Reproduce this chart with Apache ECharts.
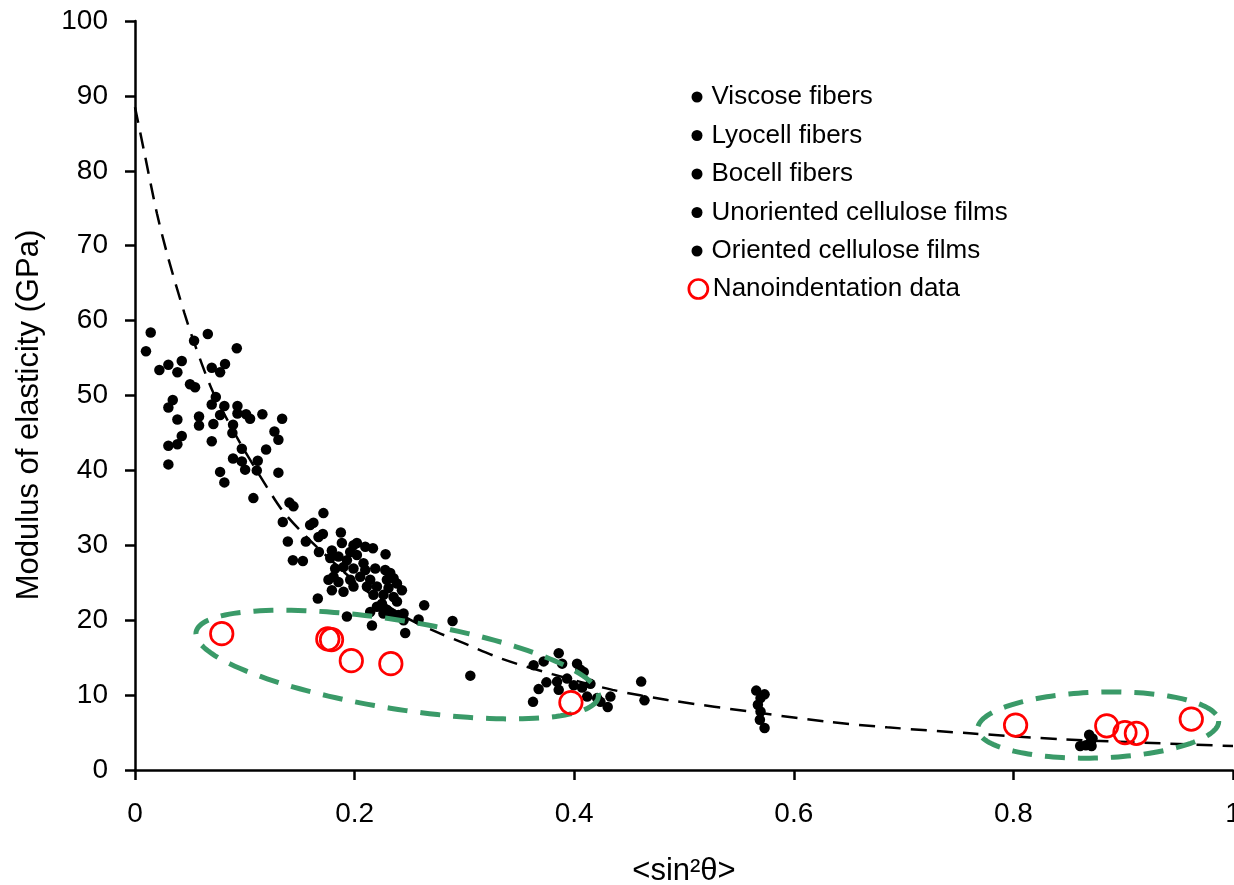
<!DOCTYPE html>
<html>
<head>
<meta charset="utf-8">
<script src="https://cdn.jsdelivr.net/npm/echarts@6/dist/echarts.min.js"></script>
<style>
  html, body { margin: 0; padding: 0; background: #fff; }
  #chart { width: 1234px; height: 885px; }
</style>
</head>
<body>
<div id="chart"></div>
<script>
// Elastic modulus vs. orientation parameter <sin²θ> for regenerated cellulose

const seriesNames = [
  'Viscose fibers',
  'Lyocell fibers',
  'Bocell fibers',
  'Unoriented cellulose films',
  'Oriented cellulose films'
];
const nanoName = 'Nanoindentation data';

const xTicks = [0, 0.2, 0.4, 0.6, 0.8, 1];
const yTicks = [0, 10, 20, 30, 40, 50, 60, 70, 80, 90, 100];

// [<sin²θ>, modulus GPa]
const viscose = [
  [0.3054, 12.6], [0.3859, 15.6], [0.3890, 14.2], [0.3722, 14.5], [0.4026, 14.2],
  [0.4057, 13.4], [0.4087, 13.1], [0.3747, 11.7], [0.3676, 10.8], [0.3625, 9.1],
  [0.3844, 11.8], [0.3859, 10.7], [0.3935, 12.2], [0.3996, 11.3], [0.4072, 11.0],
  [0.4148, 11.5], [0.4118, 9.8], [0.4209, 9.6], [0.4239, 9.1], [0.4330, 9.8],
  [0.4305, 8.4], [0.4610, 11.8], [0.4640, 9.3], [0.3630, 14.0]
];

const lyocell = [
  [0.1407, 35.7], [0.1443, 35.2], [0.1716, 34.3], [0.1346, 33.1], [0.1595, 32.7],
  [0.1625, 33.0], [0.1875, 31.7], [0.1392, 30.5], [0.1556, 30.5], [0.1671, 31.1],
  [0.1711, 31.5], [0.1438, 28.0], [0.1529, 27.9], [0.1675, 29.1], [0.1793, 29.3],
  [0.1884, 30.3], [0.1990, 30.0], [0.2021, 30.3], [0.2097, 29.8], [0.2167, 29.6],
  [0.2282, 28.8], [0.1778, 28.3], [0.1853, 28.5], [0.1930, 28.0], [0.1960, 29.1],
  [0.2021, 28.7], [0.2081, 27.6], [0.1823, 26.9], [0.1899, 27.1], [0.1990, 26.9],
  [0.2097, 26.7], [0.2188, 26.9], [0.1808, 25.8], [0.1762, 25.4], [0.1853, 25.1],
  [0.1960, 25.4], [0.2051, 25.8], [0.2142, 25.4], [0.2279, 26.7], [0.2325, 26.3],
  [0.2355, 25.6], [0.2294, 25.4], [0.2386, 24.9], [0.2431, 24.0], [0.2309, 24.3],
  [0.2203, 24.5], [0.2112, 24.5], [0.1990, 24.5], [0.1899, 23.8], [0.1793, 24.0],
  [0.2172, 23.4], [0.2263, 23.4], [0.2355, 23.1], [0.2386, 22.5], [0.2249, 22.2],
  [0.2203, 21.8], [0.2294, 21.4], [0.2340, 20.9], [0.2400, 20.7], [0.2446, 20.9],
  [0.2446, 20.0], [0.2325, 20.7], [0.2263, 20.9], [0.1665, 22.9], [0.2142, 21.1],
  [0.1930, 20.5], [0.2158, 19.3], [0.2461, 18.3], [0.2583, 20.1], [0.2634, 22.0],
  [0.2892, 19.9]
];

const bocell = [
  [0.0143, 58.4], [0.0100, 55.9], [0.0538, 57.3], [0.0663, 58.2], [0.0927, 56.3],
  [0.0222, 53.4], [0.0304, 54.1], [0.0386, 53.1], [0.0426, 54.6], [0.0699, 53.7],
  [0.0820, 54.2], [0.0775, 53.1], [0.0501, 51.5], [0.0547, 51.1], [0.0344, 49.4],
  [0.0304, 48.4], [0.0736, 49.8], [0.0699, 48.8], [0.0814, 48.6], [0.0933, 48.6],
  [0.0775, 47.4], [0.0933, 47.6], [0.1012, 47.5], [0.1048, 46.9], [0.1160, 47.5],
  [0.1340, 46.9], [0.0386, 46.8], [0.0583, 47.2], [0.0583, 46.0], [0.0714, 46.2],
  [0.0893, 46.1], [0.0887, 45.0], [0.1270, 45.2], [0.1306, 44.1], [0.0426, 44.6],
  [0.0386, 43.5], [0.0304, 43.3], [0.0699, 43.9], [0.0973, 42.9], [0.1194, 42.8],
  [0.0893, 41.6], [0.0973, 41.2], [0.1003, 40.1], [0.1118, 41.3], [0.1109, 40.0],
  [0.0304, 40.8], [0.1306, 39.7], [0.0775, 39.8], [0.0814, 38.4], [0.1078, 36.3]
];

const unorientedFilms = [
  [0.8608, 3.2], [0.8660, 3.3], [0.8706, 3.8], [0.8690, 4.7], [0.8721, 4.2], [0.8712, 3.2]
];

const orientedFilms = [
  [0.5658, 10.6], [0.5734, 10.1], [0.5697, 9.6], [0.5673, 8.7], [0.5697, 7.8],
  [0.5691, 6.7], [0.5734, 5.6]
];

const nanoindentation = [
  [0.079, 18.2], [0.1756, 17.5], [0.179, 17.4], [0.197, 14.6], [0.233, 14.2],
  [0.397, 9.0], [0.802, 6.0], [0.885, 5.9], [0.9016, 5.0], [0.912, 4.9], [0.962, 6.8]
];

// fitted trend line
const trendX = [0, 0.008, 0.02, 0.03, 0.045, 0.055, 0.07, 0.085, 0.1, 0.12, 0.135, 0.155,
  0.175, 0.2, 0.225, 0.25, 0.275, 0.3, 0.335, 0.38, 0.435, 0.485, 0.57, 0.63, 0.685,
  0.76, 0.845, 0.935, 1.0];
const trendY = [88.5, 82.8, 74.3, 68.5, 61.0, 56.6, 50.8, 46.5, 42.6, 37.8, 34.5, 31.3,
  28.5, 25.2, 22.4, 20.1, 18.4, 16.9, 14.8, 12.8, 10.7, 9.35, 7.6, 6.45, 5.7,
  4.9, 4.1, 3.55, 3.2];

// highlighted groups: major-axis end points [x1, y1, x2, y2] and minor/major ratio
const groupOutlines = [
  [0.0556, 18.4, 0.422, 9.75, 0.217],
  [0.7675, 5.47, 0.987, 6.54, 0.273]
];

const FONT = '"Liberation Sans", Arial, Helvetica, sans-serif';

const chart = echarts.init(document.getElementById('chart'), null, { renderer: 'canvas' });

const blackSeries = [viscose, lyocell, bocell, unorientedFilms, orientedFilms].map((d, i) => ({
  name: seriesNames[i],
  type: 'scatter',
  data: d,
  symbol: 'circle',
  symbolSize: 10.5,
  itemStyle: { color: '#000', opacity: 1 },
  z: 3,
  silent: true
}));

const option = {
  animation: false,
  backgroundColor: '#fff',
  textStyle: { fontFamily: FONT },
  grid: { left: 135, right: 1, top: 21, bottom: 115, containLabel: false, outerBoundsMode: 'none' },
  xAxis: {
    type: 'value',
    min: 0, max: 1, interval: 0.2,
    name: '<sin²θ>',
    nameLocation: 'middle',
    nameGap: 86,
    nameTextStyle: { fontSize: 31, color: '#000', fontFamily: FONT },
    axisLine: { show: true, onZero: false, lineStyle: { color: '#000', width: 2.5 } },
    axisTick: { show: true, inside: false, length: 10, lineStyle: { color: '#000', width: 2.5 } },
    axisLabel: {
      fontSize: 28, color: '#000', fontFamily: FONT, margin: 30,
      formatter: v => {
        const t = xTicks.find(k => Math.abs(k - v) < 1e-9);
        return t === undefined ? '' : String(t);
      }
    },
    splitLine: { show: false }
  },
  yAxis: {
    type: 'value',
    min: 0, max: 100, interval: 10,
    name: 'Modulus of elasticity (GPa)',
    nameLocation: 'middle',
    nameGap: 90,
    nameTextStyle: { fontSize: 31, color: '#000', fontFamily: FONT, padding: [0, 39, 0, 0] },
    axisLine: { show: true, onZero: false, lineStyle: { color: '#000', width: 2.5 } },
    axisTick: { show: true, inside: false, length: 10, lineStyle: { color: '#000', width: 2.5 } },
    axisLabel: {
      fontSize: 28, color: '#000', fontFamily: FONT, margin: 27,
      formatter: v => {
        const t = yTicks.find(k => Math.abs(k - v) < 1e-9);
        return t === undefined ? '' : String(t);
      }
    },
    splitLine: { show: false }
  },
  legend: [
    {
      data: seriesNames,
      orient: 'vertical',
      left: 691.5, top: 83,
      padding: 0,
      itemWidth: 11, itemHeight: 11, itemGap: 10.5,
      icon: 'circle',
      selectedMode: false,
      textStyle: { fontSize: 26, color: '#000', fontFamily: FONT, lineHeight: 28, padding: [0, 0, 0, 4] }
    },
    {
      data: [nanoName],
      orient: 'vertical',
      left: 687.5, top: 275,
      padding: 0,
      itemWidth: 19, itemHeight: 19,
      icon: 'circle',
      selectedMode: false,
      itemStyle: { color: 'rgba(0,0,0,0)', borderColor: '#ff0000', borderWidth: 2.7, opacity: 1 },
      textStyle: { fontSize: 26, color: '#000', fontFamily: FONT, lineHeight: 28 }
    }
  ],
  series: [
    {
      name: 'trend',
      type: 'line',
      data: trendX.map((x, i) => [x, trendY[i]]),
      symbol: 'none',
      smooth: 0.3,
      lineStyle: { color: '#000', width: 2.5, type: [16, 10] },
      z: 2,
      silent: true
    },
    ...blackSeries,
    {
      name: 'outline',
      type: 'custom',
      data: groupOutlines,
      clip: false,
      z: 4,
      silent: true,
      renderItem: (params, api) => {
        const p1 = api.coord([api.value(0), api.value(1)]);
        const p2 = api.coord([api.value(2), api.value(3)]);
        const cx = (p1[0] + p2[0]) / 2;
        const cy = (p1[1] + p2[1]) / 2;
        const a = Math.hypot(p2[0] - p1[0], p2[1] - p1[1]) / 2;
        const b = a * api.value(4);
        const ang = Math.atan2(p2[1] - p1[1], p2[0] - p1[0]);
        const cosA = Math.cos(ang), sinA = Math.sin(ang);
        const pts = [];
        const n = 160;
        for (let k = 0; k < n; k++) {
          const t = (k / n) * Math.PI * 2;
          const ex = a * Math.cos(t), ey = b * Math.sin(t);
          pts.push([cx + ex * cosA - ey * sinA, cy + ex * sinA + ey * cosA]);
        }
        return {
          type: 'polygon',
          shape: { points: pts },
          style: { fill: 'none', stroke: '#3a9a68', lineWidth: 5, lineDash: [20, 13] }
        };
      }
    },
    {
      name: nanoName,
      type: 'scatter',
      data: nanoindentation,
      symbol: 'circle',
      symbolSize: 22.5,
      itemStyle: { color: 'rgba(0,0,0,0)', borderColor: '#ff0000', borderWidth: 2.7, opacity: 1 },
      z: 5,
      silent: true
    }
  ]
};

chart.setOption(option);
</script>
</body>
</html>
